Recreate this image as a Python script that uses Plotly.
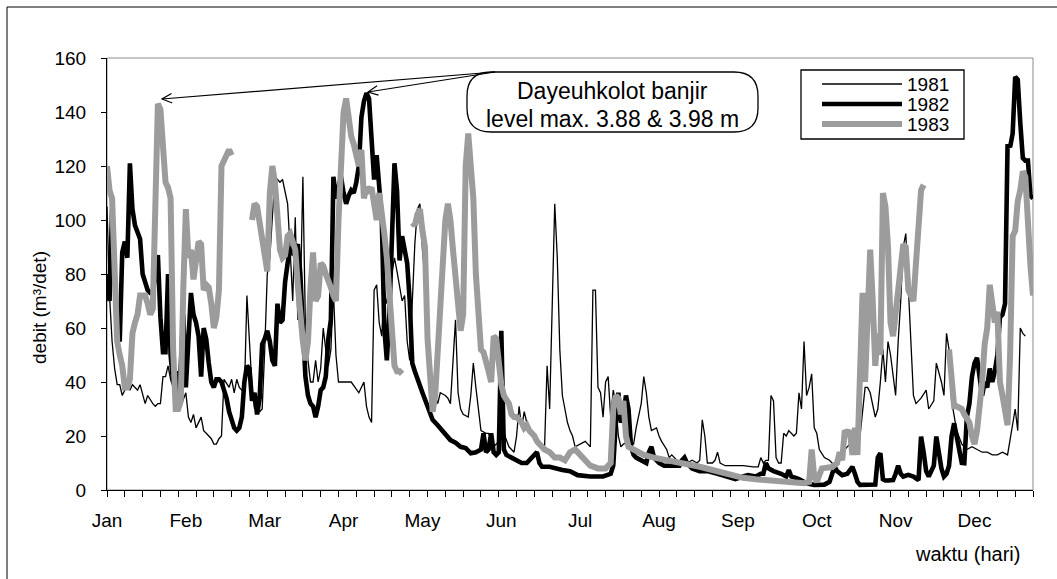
import math
import plotly.graph_objects as go

# ---------------- data (day index 0..364, discharge m3/det) ----------------
days_1981 = [0, 1, 2, 3, 4, 5, 6, 8, 9, 10, 12, 13, 15, 16, 18, 19, 20, 21, 22, 23, 24, 25, 26, 27, 29, 31, 32, 33, 34, 35, 37, 38, 39, 41, 42, 43, 44, 45, 46, 48, 49, 50, 51, 52, 54, 55, 56, 57, 58, 59, 60, 61, 62, 63, 64, 65, 66, 67, 68, 69, 70, 71, 72, 73, 74, 75, 76, 77, 78, 79, 80, 81, 82, 83, 84, 85, 86, 87, 88, 89, 90, 91, 93, 96, 99, 101, 102, 103, 104, 105, 106, 107, 108, 109, 110, 112, 113, 114, 116, 117, 118, 119, 120, 121, 122, 123, 124, 126, 127, 128, 130, 131, 133, 134, 135, 136, 137, 138, 139, 140, 142, 143, 144, 145, 146, 147, 149, 150, 152, 154, 156, 158, 159, 160, 161, 162, 163, 164, 165, 167, 169, 171, 172, 173, 174, 176, 177, 178, 179, 180, 181, 182, 183, 184, 186, 188, 189, 190, 191, 192, 193, 194, 195, 196, 197, 198, 199, 200, 201, 202, 203, 205, 207, 208, 210, 211, 212, 213, 214, 216, 217, 218, 220, 221, 222, 224, 226, 228, 230, 232, 233, 234, 235, 236, 238, 239, 240, 241, 243, 245, 247, 250, 254, 256, 257, 258, 259, 260, 261, 262, 263, 264, 265, 266, 267, 268, 270, 271, 272, 273, 274, 275, 276, 277, 278, 279, 280, 282, 284, 286, 288, 290, 292, 294, 296, 297, 298, 299, 300, 302, 303, 304, 305, 306, 307, 308, 310, 311, 312, 313, 314, 315, 316, 317, 318, 320, 322, 323, 325, 326, 328, 329, 330, 331, 332, 334, 336, 338, 340, 342, 344, 346, 348, 350, 352, 354, 356, 357, 358, 359, 360, 361]
q_1981 = [105, 72, 55, 45, 39, 39, 35, 39, 37, 39, 37, 39, 32, 35, 32, 31, 32, 32, 42, 42, 46, 41, 38, 32, 31, 36, 27, 25, 28, 23, 27, 22, 21, 19, 17, 17, 19, 20, 41, 38, 41, 36, 41, 38, 36, 72, 55, 38, 30, 34, 29, 30, 52, 80, 86, 100, 116, 115, 114, 115, 111, 106, 89, 70, 101, 63, 70, 116, 60, 48, 40, 40, 48, 40, 45, 60, 52, 46, 52, 74, 50, 40, 40, 40, 36, 40, 31, 27, 25, 74, 76, 62, 57, 74, 69, 80, 86, 81, 70, 72, 55, 48, 70, 91, 104, 106, 89, 67, 40, 37, 32, 36, 35, 34, 32, 50, 63, 36, 30, 28, 27, 35, 47, 38, 30, 22, 21, 21, 16, 18, 21, 16, 15, 14, 20, 31, 23, 29, 25, 21, 17, 17, 16, 46, 30, 106, 86, 52, 35, 30, 25, 22, 20, 16, 17, 18, 17, 16, 74, 74, 38, 36, 27, 40, 42, 27, 37, 32, 20, 16, 17, 18, 17, 23, 32, 42, 36, 27, 22, 23, 20, 18, 15, 12, 13, 11, 10, 10, 11, 10, 11, 26, 20, 10, 10, 11, 14, 10, 9, 9, 9, 9, 8.6, 8.6, 12, 10, 11, 11, 35, 33, 12, 10, 10, 21, 20, 22, 20, 21, 36, 30, 55, 35, 38, 43, 23, 21, 15, 12, 11, 9, 11, 15, 17, 17, 20, 30, 38, 38, 36, 27, 30, 40, 52, 40, 55, 50, 35, 55, 70, 90, 95, 75, 55, 35, 32, 34, 37, 30, 33, 47, 40, 35, 58, 52, 33, 22, 17, 15, 16, 15, 14, 14, 13, 13, 14, 13, 25, 30, 22, 60, 58, 57]

days_1982 = [0, 1, 2, 3, 4, 5, 6, 7, 8, 9, 10, 11, 12, 13, 14, 15, 16, 17, 18, 19, 20, 21, 22, 23, 24, 25, 26, 27, 28, 29, 30, 31, 32, 33, 34, 35, 36, 37, 38, 39, 40, 41, 42, 43, 44, 45, 46, 47, 48, 49, 50, 51, 52, 53, 54, 55, 56, 57, 58, 59, 60, 61, 62, 63, 64, 65, 66, 67, 68, 69, 70, 71, 72, 73, 74, 75, 76, 77, 78, 79, 80, 81, 82, 83, 84, 85, 86, 87, 88, 89, 90, 91, 92, 93, 94, 95, 96, 97, 98, 99, 100, 101, 102, 103, 104, 105, 106, 107, 108, 109, 110, 111, 112, 113, 114, 115, 116, 117, 118, 119, 120, 121, 123, 124, 126, 127, 128, 130, 132, 133, 135, 137, 139, 141, 143, 145, 147, 148, 149, 150, 151, 152, 153, 154, 155, 156, 157, 159, 161, 163, 165, 167, 169, 170, 171, 174, 176, 179, 182, 185, 190, 195, 198, 199, 200, 201, 202, 203, 204, 205, 206, 207, 208, 210, 212, 213, 214, 215, 217, 219, 222, 225, 226, 227, 228, 230, 233, 236, 240, 244, 247, 250, 252, 255, 257, 258, 259, 260, 262, 265, 267, 268, 269, 272, 275, 278, 282, 284, 285, 286, 287, 289, 291, 292, 293, 294, 295, 296, 300, 302, 303, 304, 305, 306, 307, 309, 310, 311, 312, 313, 315, 317, 319, 320, 321, 322, 323, 324, 325, 326, 327, 328, 329, 330, 331, 332, 333, 334, 335, 336, 337, 338, 339, 340, 341, 342, 343, 344, 345, 346, 347, 348, 349, 350, 351, 352, 353, 354, 355, 356, 357, 358, 359, 360, 361, 362, 363, 364]
q_1982 = [80, 70, 104, 80, 57, 55, 88, 92, 86, 121, 104, 98, 95, 93, 80, 77, 74, 73, 73, 80, 87, 64, 51, 51, 80, 50, 40, 44, 35, 46, 65, 38, 55, 73, 65, 62, 57, 42, 60, 56, 47, 40, 38, 41, 41, 40, 37, 34, 29, 26, 23, 22, 23, 27, 40, 46, 45, 33, 36, 28, 34, 54, 56, 59, 55, 48, 46, 69, 62, 63, 77, 84, 90, 88, 89, 91, 80, 60, 42, 35, 32, 31, 27, 31, 37, 38, 42, 56, 63, 116, 108, 112, 116, 110, 106, 109, 111, 110, 114, 120, 138, 144, 147, 145, 132, 115, 124, 112, 101, 60, 48, 65, 95, 121, 111, 85, 94, 88, 84, 70, 47, 44, 38, 36, 31, 29, 26, 24, 22, 21, 18.5, 17.5, 16, 15.5, 13.6, 14, 15, 21, 14, 15, 21, 14, 13, 14, 59, 15, 13, 12, 11, 10, 10, 12, 14, 10, 8.6, 8.6, 8, 7.4, 7, 5.5, 5, 5, 6, 9, 25, 36, 25, 28, 35, 30, 16, 13, 12, 11, 10, 14, 16, 12, 10, 9, 9, 9, 11, 12, 10, 8, 7, 7, 6, 5, 4, 5, 5.5, 5, 6, 6, 10, 8, 7, 6, 5, 7.4, 5, 4, 2.5, 1.9, 2, 3, 6, 8.6, 7, 5.5, 6, 7.5, 8.6, 6, 3, 1.9, 1.9, 2, 12, 13.6, 4, 3.5, 3.5, 3.7, 6, 9, 6, 5, 5.6, 5, 3.7, 19.8, 14, 7, 5, 7, 9, 19.8, 13, 8, 5, 6, 9, 20, 24.7, 20, 15, 10, 9.9, 27, 32, 42, 47, 49, 42, 35, 40, 38, 45, 40, 44, 50, 64, 65, 69, 128, 127, 132, 153, 152, 136, 123, 122, 122, 109, 108]

days_1983 = [0, 1, 2, 3, 4, 5, 6, 7, 8, 9, 10, 11, 12, 13, 14, 15, 16, 17, 18, 19, 20, 21, 22, 23, 24, 25, 26, 27, 28, 29, 30, 31, 32, 33, 34, 35, 36, 37, 38, 39, 40, 41, 42, 43, 44, 45, 46, 47, 48, 49, 53, 57, 58, 59, 60, 61, 62, 63, 64, 65, 66, 67, 68, 69, 70, 71, 72, 73, 74, 75, 76, 77, 78, 79, 80, 81, 82, 83, 84, 85, 86, 87, 88, 89, 90, 91, 92, 93, 94, 95, 96, 97, 98, 99, 100, 101, 102, 103, 104, 105, 106, 107, 108, 109, 110, 111, 112, 113, 114, 115, 116, 118, 120, 121, 122, 123, 124, 125, 126, 127, 128, 129, 130, 131, 132, 133, 134, 135, 136, 137, 138, 139, 140, 141, 142, 143, 144, 145, 146, 147, 148, 149, 150, 151, 152, 153, 154, 155, 156, 157, 158, 159, 160, 161, 162, 163, 164, 165, 166, 167, 168, 169, 170, 172, 174, 176, 178, 180, 182, 184, 186, 188, 190, 193, 196, 198, 199, 200, 201, 202, 203, 204, 205, 207, 211, 215, 221, 226, 233, 238, 244, 247, 250, 255, 260, 265, 270, 274, 276, 277, 278, 279, 281, 283, 285, 287, 288, 289, 290, 291, 292, 293, 294, 295, 296, 297, 298, 299, 300, 301, 302, 303, 304, 305, 306, 307, 308, 309, 310, 311, 312, 313, 314, 315, 316, 317, 318, 319, 320, 321, 326, 331, 332, 333, 334, 336, 337, 339, 340, 341, 342, 343, 344, 345, 346, 347, 348, 349, 350, 351, 352, 353, 354, 355, 356, 357, 358, 359, 360, 361, 362, 363, 364]
q_1983 = [120, 111, 108, 75, 55, 50, 46, 38, 38, 41, 58, 62, 65, 72, 72, 72, 69, 65, 67, 100, 143, 141, 125, 114, 112, 108, 52, 30, 30, 33, 75, 104, 86, 89, 78, 86, 92, 91, 74, 76, 75, 69, 60, 64, 74, 120, 122, 125, 126, 124, None, 100, 106, 105, 99, 93, 85, 81, 110, 120, 114, 100, 89, 86, 87, 94, 95, 92, 89, 76, 62, 55, 48, 55, 75, 88, 70, 72, 84, 83, 80, 78, 75, 72, 70, 100, 127, 140, 145, 136, 131, 128, 124, 120, 126, 108, 112, 111, 112, 105, 100, 110, 104, 95, 86, 71, 58, 46, 44, 44, 43, None, 99, 98, 102, 104, 96, 90, 56, 41, 29, 35, 52, 70, 90, 100, 106, 100, 89, 80, 66, 59, 65, 120, 132, 122, 108, 80, 68, 52, 51, 48, 44, 40, 57, 56, 45, 39, 35, 33, 32, 28, 27, 27, 26, 25, 23, 24, 22, 21, 20, 18, 17, 15, 14, 12, 12, 11, 14, 15, 13, 11, 9, 8, 8, 10, 30, 35, 34, 28, 33, 20, 16, 15, 13, 12, 11, 10, 8.6, 7.4, 6, 5, 4.5, 4, 3.5, 3, 2.5, 2.5, 3, 15, 5, 3, 8, 8, 8.5, 10, 14, 11, 22, 21, 22, 13, 23, 13, 40, 73, 40, 60, 89, 70, 46, 58, 50, 110, 105, 90, 62, 57, 66, 70, 84, 91, 90, 74, 72, 70, 84, 100, 111, 113, None, 52, 40, 31, 31, 30, 28, 25, 20, 17, 22, 30, 40, 54, 60, 76, 69, 62, 66, 40, 35, 30, 24, 50, 94, 96, 107, 111, 118, 116, 94, 83, 72]

series_names = ["1981", "1982", "1983"]
month_labels = ["Jan", "Feb", "Mar", "Apr", "May", "Jun",
                "Jul", "Aug", "Sep", "Oct", "Nov", "Dec"]
y_ticks = [0, 20, 40, 60, 80, 100, 120, 140, 160]
callout_lines = ["Dayeuhkolot banjir", "level max. 3.88 & 3.98 m"]

# ---------------- styling ----------------
FONT = "Liberation Sans, Arial, sans-serif"
GRAY = "#9c9c9c"
styles = {
    "1981": dict(color="black", width=1.3),
    "1982": dict(color="black", width=4.6),
    "1983": dict(color=GRAY, width=6),
}

W, H = 1057, 579
L, R, T, B = 107, 24, 58, 89
PW, PH = W - L - R, H - T - B


def px(xp):
    return (xp - L) / PW


def py(yp):
    return (H - B - yp) / PH


def P(x, y):
    return f"{px(x):.5f},{py(y):.5f}"


fig = go.Figure()
for name, dx, dy in [("1981", days_1981, q_1981),
                     ("1982", days_1982, q_1982),
                     ("1983", days_1983, q_1983)]:
    fig.add_trace(go.Scatter(x=dx, y=dy, mode="lines", name=name,
                             line=styles[name], connectgaps=False,
                             showlegend=False, hoverinfo="x+y+name"))

shapes = []
# outer chart frame (left & top edges visible)
shapes.append(dict(type="line", xref="paper", yref="paper",
                   x0=px(7), x1=px(7), y0=py(7), y1=py(579),
                   line=dict(color="black", width=1)))
shapes.append(dict(type="line", xref="paper", yref="paper",
                   x0=px(7), x1=px(1057), y0=py(7), y1=py(7),
                   line=dict(color="black", width=1)))
# plot-area border (gray)
shapes.append(dict(type="rect", xref="paper", yref="paper", x0=0, x1=1, y0=0, y1=1,
                   line=dict(color="#8c8c8c", width=1), layer="below"))

# rounded callout box
bx0, bx1, by0, by1, rad = 467, 758, 72, 132, 24
path = (f"M {P(bx0 + rad, by0)} L {P(bx1 - rad, by0)} "
        f"Q {P(bx1, by0)} {P(bx1, by0 + rad)} L {P(bx1, by1 - rad)} "
        f"Q {P(bx1, by1)} {P(bx1 - rad, by1)} L {P(bx0 + rad, by1)} "
        f"Q {P(bx0, by1)} {P(bx0, by1 - rad)} L {P(bx0, by0 + rad)} "
        f"Q {P(bx0, by0)} {P(bx0 + rad, by0)} Z")
shapes.append(dict(type="path", xref="paper", yref="paper", path=path,
                   fillcolor="white", line=dict(color="black", width=1.3), layer="above"))

# arrows (open heads) from the callout corner to the two flood peaks
tail_px = (495, 72)
for tip in [(162, 99), (368, 92)]:
    shapes.append(dict(type="line", xref="paper", yref="paper",
                       x0=px(tail_px[0]), y0=py(tail_px[1]), x1=px(tip[0]), y1=py(tip[1]),
                       line=dict(color="black", width=1.2), layer="above"))
    ang = math.atan2(tail_px[1] - tip[1], tail_px[0] - tip[0])
    legs = [(tip[0] + 11 * math.cos(ang + d), tip[1] + 11 * math.sin(ang + d))
            for d in (0.45, -0.45)]
    hp = f"M {P(*legs[0])} L {P(*tip)} L {P(*legs[1])}"
    shapes.append(dict(type="path", xref="paper", yref="paper", path=hp,
                       line=dict(color="black", width=1.2), layer="above"))

# legend box
lx0, lx1, ly0, ly1 = 801, 964, 70, 139
shapes.append(dict(type="rect", xref="paper", yref="paper",
                   x0=px(lx0), x1=px(lx1), y0=py(ly1), y1=py(ly0),
                   fillcolor="white", line=dict(color="black", width=1.3), layer="above"))
row_y = [84, 104, 124]
annotations = []
for name, ry in zip(series_names, row_y):
    shapes.append(dict(type="line", xref="paper", yref="paper",
                       x0=px(822), x1=px(902), y0=py(ry), y1=py(ry),
                       line=styles[name], layer="above"))
    annotations.append(dict(xref="paper", yref="paper", x=px(905), y=py(ry),
                            text=name, showarrow=False, xanchor="left", yanchor="middle",
                            font=dict(family=FONT, size=19, color="black")))

# callout text (two lines)
for txt, ly in zip(callout_lines, [91, 119]):
    annotations.append(dict(xref="paper", yref="paper", x=px((bx0 + bx1) / 2), y=py(ly),
                            text=txt, showarrow=False, xanchor="center", yanchor="middle",
                            font=dict(family=FONT, size=23, color="black")))

# axis titles
annotations.append(dict(xref="paper", yref="paper", x=px(39), y=py(308),
                        text="debit (m³/det)", textangle=-90, showarrow=False,
                        xanchor="center", yanchor="middle",
                        font=dict(family=FONT, size=19, color="black")))
annotations.append(dict(xref="paper", yref="paper", x=px(967), y=py(554),
                        text="waktu (hari)", showarrow=False,
                        xanchor="center", yanchor="middle",
                        font=dict(family=FONT, size=20, color="black")))

fig.update_layout(
    width=W, height=H, margin=dict(l=L, r=R, t=T, b=B, pad=0),
    paper_bgcolor="white", plot_bgcolor="white",
    font=dict(family=FONT, size=19, color="black"),
    shapes=shapes, annotations=annotations, showlegend=False,
    xaxis=dict(range=[0, 364], showgrid=False, zeroline=False,
               showline=True, linecolor="black", linewidth=1,
               tickmode="array", tickvals=[31 * i for i in range(12)],
               ticktext=month_labels, ticks="outside", ticklen=6,
               tickcolor="rgba(0,0,0,0)", ticklabelstandoff=7,
               tickfont=dict(family=FONT, size=19),
               minor=dict(tickmode="linear", tick0=0, dtick=7, ticks="outside",
                          ticklen=6, tickcolor="black", tickwidth=1, showgrid=False)),
    yaxis=dict(range=[0, 160], showgrid=False, zeroline=False,
               showline=True, linecolor="black", linewidth=1,
               tickmode="array", tickvals=y_ticks, ticks="outside", ticklen=5,
               tickcolor="black", ticklabelstandoff=11,
               tickfont=dict(family=FONT, size=19)),
)

fig.write_html("out.html")
